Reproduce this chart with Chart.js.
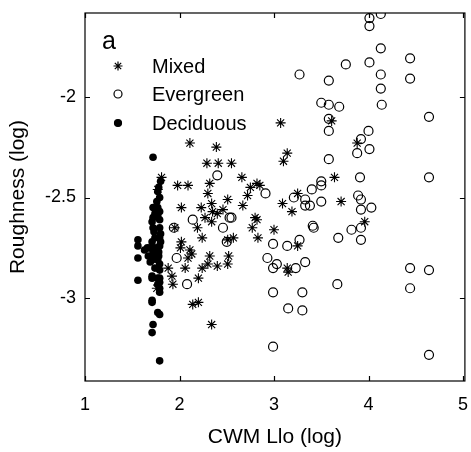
<!DOCTYPE html>
<html><head><meta charset="utf-8">
<script src="https://cdn.jsdelivr.net/npm/chart.js@4"></script>
<style>html,body{margin:0;padding:0;background:#fff;}#wrap{width:471px;height:452px;}</style>
</head><body><div id="wrap"><canvas id="c" width="471" height="452"></canvas></div>
<script>
const xTicks = [1, 2, 3, 4, 5];
const yTicks = [-3, -2.5, -2];
const seriesNames = ['Mixed', 'Evergreen', 'Deciduous'];

const mixedX = [2.11,2.39,2.29,2.41,2.55,1.81,1.77,2.66,2.32,1.98,2.09,2.75,2.82,2.85,2.30,2.72,2.51,2.02,2.23,2.34,2.67,2.35,2.46,2.40,2.27,2.34,2.80,2.77,3.00,1.95,2.19,2.24,2.57,2.51,2.83,2.02,2.01,2.11,2.13,2.09,2.32,2.52,2.51,2.30,2.40,2.24,2.06,1.88,1.92,1.93,1.76,2.20,2.20,2.14,2.34,3.07,3.61,3.14,3.10,3.88,3.64,3.25,3.71,2.82,3.09,3.19,3.25,3.14,3.15,3.96];
const mixedY = [-2.23,-2.25,-2.33,-2.33,-2.33,-2.40,-2.46,-2.40,-2.43,-2.44,-2.44,-2.45,-2.43,-2.44,-2.48,-2.49,-2.51,-2.55,-2.55,-2.53,-2.54,-2.57,-2.56,-2.58,-2.60,-2.62,-2.60,-2.65,-2.66,-2.65,-2.65,-2.70,-2.70,-2.71,-2.70,-2.72,-2.75,-2.76,-2.78,-2.80,-2.79,-2.79,-2.83,-2.83,-2.84,-2.85,-2.85,-2.85,-2.89,-2.93,-2.95,-2.90,-3.02,-3.03,-3.13,-2.13,-2.12,-2.28,-2.32,-2.23,-2.40,-2.48,-2.52,-2.61,-2.53,-2.57,-2.74,-2.85,-2.87,-2.62];

const evergreenX = [4.13,4.01,4.01,4.13,4.44,4.01,3.76,3.27,4.13,4.44,3.58,4.13,3.50,3.58,3.69,4.14,4.64,3.58,3.58,4.00,3.92,4.01,3.88,3.58,3.91,4.64,3.50,3.50,3.40,3.89,3.21,2.91,3.33,3.33,3.38,3.50,3.92,4.03,3.92,3.41,3.42,3.82,3.92,3.68,3.92,2.55,2.99,3.14,3.27,2.93,3.03,2.99,3.23,3.33,2.99,3.30,3.15,3.30,3.67,4.44,4.64,4.44,2.99,4.64,2.40,2.14,2.53,2.46,2.50,1.97,2.08,1.94];
const evergreenY = [-1.59,-1.61,-1.65,-1.76,-1.81,-1.83,-1.84,-1.89,-1.89,-1.91,-1.92,-1.96,-2.03,-2.04,-2.05,-2.04,-2.10,-2.11,-2.17,-2.17,-2.21,-2.26,-2.28,-2.31,-2.40,-2.40,-2.42,-2.44,-2.46,-2.49,-2.50,-2.48,-2.51,-2.54,-2.54,-2.52,-2.51,-2.55,-2.56,-2.64,-2.65,-2.66,-2.65,-2.70,-2.71,-2.60,-2.73,-2.74,-2.71,-2.80,-2.83,-2.85,-2.85,-2.82,-2.97,-2.97,-3.05,-3.06,-2.93,-2.85,-2.86,-2.95,-3.24,-3.28,-2.39,-2.61,-2.60,-2.65,-2.72,-2.80,-2.93,-2.65];

const deciduousX = [1.72,1.80,1.78,1.77,1.79,1.76,1.72,1.74,1.72,1.71,1.79,1.77,1.72,1.79,1.73,1.80,1.74,1.79,1.56,1.56,1.66,1.74,1.79,1.63,1.69,1.72,1.78,1.56,1.67,1.72,1.78,1.71,1.77,1.69,1.79,1.74,1.79,1.71,1.79,1.71,1.77,1.56,1.79,1.77,1.79,1.79,1.71,1.71,1.77,1.79,1.72,1.71,1.79,1.77,1.79,1.71,1.80];
const deciduousY = [-2.30,-2.42,-2.45,-2.47,-2.50,-2.52,-2.55,-2.58,-2.60,-2.62,-2.61,-2.59,-2.65,-2.65,-2.67,-2.68,-2.70,-2.70,-2.71,-2.74,-2.75,-2.75,-2.74,-2.76,-2.75,-2.77,-2.77,-2.80,-2.79,-2.79,-2.79,-2.81,-2.81,-2.82,-2.83,-2.85,-2.86,-2.89,-2.90,-2.90,-2.90,-2.91,-2.92,-2.93,-2.95,-2.97,-3.01,-3.02,-3.07,-3.08,-3.13,-3.17,-3.31,-2.55,-2.57,-2.72,-2.72];

const pts = (xs, ys) => xs.map((x, i) => ({x: x, y: ys[i]}));
const FONT = "'Liberation Sans', Arial, sans-serif";

const styles = [
  {pointStyle: 'star', radius: 5, borderWidth: 1.1, fill: 'rgba(0,0,0,0)'},
  {pointStyle: 'circle', radius: 4.5, borderWidth: 1.2, fill: 'rgba(0,0,0,0)'},
  {pointStyle: 'circle', radius: 3.8, borderWidth: 0, fill: '#000'}
];

const zeroPad = s => { s.paddingLeft = 0; s.paddingRight = 0; s.paddingTop = 0; s.paddingBottom = 0; };

const boxPlugin = {
  id: 'boxPlugin',
  afterDraw(chart) {
    const ctx = chart.ctx, a = chart.chartArea;
    const xs = chart.scales.x, ys = chart.scales.y;
    ctx.save();
    ctx.strokeStyle = '#000';
    ctx.lineWidth = 1.2;
    ctx.strokeRect(a.left, a.top, a.right - a.left, a.bottom - a.top);
    const tl = 5;
    ctx.beginPath();
    xTicks.forEach(v => {
      const p = Math.round(xs.getPixelForValue(v)) + 0.5;
      ctx.moveTo(p, a.bottom); ctx.lineTo(p, a.bottom - tl);
      ctx.moveTo(p, a.top); ctx.lineTo(p, a.top + tl);
    });
    yTicks.forEach(v => {
      const p = Math.round(ys.getPixelForValue(v)) + 0.5;
      ctx.moveTo(a.left, p); ctx.lineTo(a.left + tl, p);
      ctx.moveTo(a.right, p); ctx.lineTo(a.right - tl, p);
    });
    ctx.stroke();

    ctx.fillStyle = '#000';
    ctx.textBaseline = 'middle';
    ctx.textAlign = 'left';
    ctx.font = '25px ' + FONT;
    ctx.fillText('a', a.left + 17, a.top + 29);
    ctx.font = '20px ' + FONT;
    const rows = [a.top + 53, a.top + 81, a.top + 110];
    seriesNames.forEach((name, i) => {
      const s = styles[i];
      ctx.save();
      ctx.strokeStyle = '#000';
      ctx.fillStyle = s.fill;
      Chart.helpers.drawPoint(ctx, {pointStyle: s.pointStyle, radius: i === 0 ? 4.5 : (i === 1 ? 4 : 3.5), rotation: 0, borderWidth: s.borderWidth || 0.01}, a.left + 33, rows[i]);
      ctx.restore();
      ctx.fillStyle = '#000';
      ctx.fillText(name, a.left + 67, rows[i] + 1);
    });
    ctx.restore();
  }
};

const series = [pts(mixedX, mixedY), pts(evergreenX, evergreenY), pts(deciduousX, deciduousY)];
const datasets = series.map((d, i) => ({
  label: seriesNames[i],
  data: d,
  order: 3 - i,
  pointStyle: styles[i].pointStyle,
  pointRadius: styles[i].radius,
  pointHoverRadius: styles[i].radius,
  pointBorderWidth: styles[i].borderWidth,
  pointBorderColor: '#000',
  pointBackgroundColor: styles[i].fill,
  showLine: false
}));

new Chart(document.getElementById('c'), {
  type: 'scatter',
  data: {datasets: datasets},
  options: {
    responsive: false,
    devicePixelRatio: 1,
    animation: false,
    events: [],
    layout: {padding: {left: 0, top: 13, right: 6, bottom: 0}},
    plugins: {legend: {display: false}, tooltip: {enabled: false}},
    scales: {
      x: {
        type: 'linear', min: 1, max: 5.02,
        afterBuildTicks: s => { s.ticks = xTicks.map(v => ({value: v})); },
        afterFit: s => { s.height = 71; zeroPad(s); },
        grid: {display: false, drawTicks: false},
        border: {display: false},
        ticks: {padding: 13, color: '#000', font: {family: FONT, size: 18}, maxRotation: 0, callback: v => String(v)},
        title: {display: true, text: 'CWM Llo (log)', color: '#000', font: {family: FONT, size: 21}, padding: {top: 0, bottom: 2}}
      },
      y: {
        type: 'linear', min: -3.41, max: -1.585,
        afterBuildTicks: s => { s.ticks = yTicks.map(v => ({value: v})); },
        afterFit: s => { s.width = 85; zeroPad(s); },
        grid: {display: false, drawTicks: false},
        border: {display: false},
        ticks: {padding: 9, color: '#000', font: {family: FONT, size: 18}, callback: v => String(v)},
        title: {display: true, text: 'Roughness (log)', color: '#000', font: {family: FONT, size: 21}, padding: {top: 6, bottom: 0}}
      }
    }
  },
  plugins: [boxPlugin]
});
</script>
</body></html>
